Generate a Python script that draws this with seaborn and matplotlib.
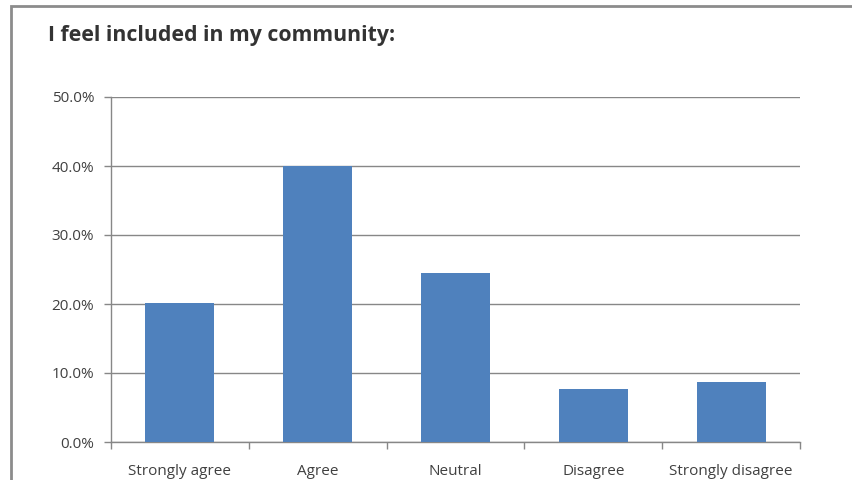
import matplotlib
matplotlib.use("Agg")
import matplotlib.pyplot as plt
import matplotlib.patches as mpatches
from matplotlib.ticker import FuncFormatter, FixedLocator
import seaborn as sns
import pandas as pd

# survey answers and share of respondents (%)
categories = ["Strongly agree", "Agree", "Neutral", "Disagree", "Strongly disagree"]
percentages = [20.1, 40.0, 24.5, 7.7, 8.7]
title_text = "I feel included in my community:"

sns.set_style("white")
plt.rcParams['font.family'] = ['Open Sans', 'DejaVu Sans']

df = pd.DataFrame({"answer": categories, "pct": percentages})

grey = "#878787"
text_col = "#404040"

fig = plt.figure(figsize=(8.52, 4.8), dpi=100)
ax = fig.add_axes([111 / 852, 1 - 442 / 480, (800 - 111) / 852, (442 - 97) / 480])

sns.barplot(data=df, x="answer", y="pct", color="#4F81BD", width=0.5,
            saturation=1, linewidth=0, ax=ax, zorder=3)

ax.set_ylim(0, 50)
ax.set_xlim(-0.5, len(categories) - 0.5)
ax.set_yticks([0, 10, 20, 30, 40, 50])
ax.yaxis.set_major_formatter(FuncFormatter(lambda v, p: f"{v:.1f}%"))
ax.yaxis.grid(True, color=grey, linewidth=1.0, zorder=0)
ax.set_axisbelow(True)
ax.set_xlabel("")
ax.set_ylabel("")

# tick marks on category boundaries, labels on centers
ax.xaxis.set_minor_locator(FixedLocator([i - 0.5 for i in range(len(categories) + 1)]))
ax.tick_params(axis="x", which="major", length=0, pad=16, labelsize=11, labelcolor=text_col)
ax.tick_params(axis="x", which="minor", length=5, width=1, color=grey, direction="out", bottom=True)
ax.tick_params(axis="y", which="major", length=5, width=1, color=grey, direction="out",
               left=True, pad=7, labelsize=11, labelcolor=text_col)

for side in ["top", "right"]:
    ax.spines[side].set_visible(False)
for side in ["left", "bottom"]:
    ax.spines[side].set_color(grey)
    ax.spines[side].set_linewidth(1.0)

# chart frame (cropped on right and bottom)
frame = mpatches.Rectangle((10.5 / 852, -0.1), 1.2, 1.1 - 5.5 / 480,
                           transform=fig.transFigure, fill=False,
                           edgecolor="#8c8c8c", linewidth=2.0)
fig.add_artist(frame)

fig.text(48 / 852, 1 - 36 / 480, title_text, fontsize=15.3, fontweight="bold",
         color="#333333", va="center", ha="left")

fig.savefig("out.png", dpi=100)
